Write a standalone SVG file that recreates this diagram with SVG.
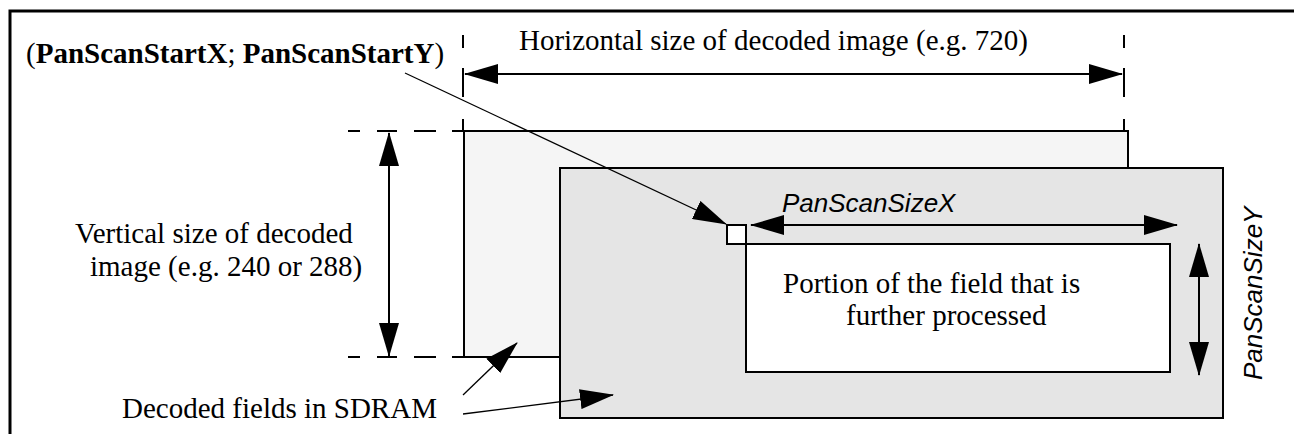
<svg xmlns="http://www.w3.org/2000/svg" width="1294" height="434" viewBox="0 0 1294 434">
<style>
.serif{font-family:"Liberation Serif","Times New Roman",serif;font-size:29px;fill:#000}
.sans{font-family:"Liberation Sans",Arial,sans-serif;font-size:26px;font-style:italic;fill:#000}
.dim{stroke:#000;stroke-width:2;fill:none}
.lead{stroke:#000;stroke-width:1.3;fill:none}
.box{stroke:#000;stroke-width:2}
</style>
<defs>
<marker id="ah" markerUnits="userSpaceOnUse" markerWidth="34" markerHeight="20" viewBox="0 0 34 20" refX="33" refY="10" orient="auto-start-reverse">
<path d="M0,0 L34,10 L0,20 z" fill="#000"/>
</marker>
</defs>
<path d="M10,434 V11 H1294" stroke="#000" stroke-width="3" fill="none"/>
<g id="field1">
<rect class="box" x="464" y="131" width="664" height="226" fill="#f5f5f5"/>
</g>
<g id="field2">
<rect class="box" x="560" y="168" width="663" height="250" fill="#e5e5e5"/>
</g>
<g id="portion">
<rect class="box" x="746" y="244" width="424" height="128" fill="#fff"/>
<text class="serif" x="783" y="293">Portion of the field that is</text>
<text class="serif" x="846" y="325">further processed</text>
</g>
<g id="start-point">
<rect class="box" x="727" y="225" width="19" height="19" fill="#fff"/>
</g>
<g id="labels">
<text class="serif" x="26" y="63"><tspan>(</tspan><tspan font-weight="bold">PanScanStartX</tspan><tspan>; </tspan><tspan font-weight="bold">PanScanStartY</tspan><tspan>)</tspan></text>
<text class="serif" x="519" y="50">Horizontal size of decoded image (e.g. 720)</text>
<text class="serif" x="75" y="243">Vertical size of decoded</text>
<text class="serif" x="90" y="276">image (e.g. 240 or 288)</text>
<text class="serif" x="122" y="418">Decoded fields in SDRAM</text>
<text class="sans" x="782" y="212">PanScanSizeX</text>
<text class="sans" transform="translate(1262,380) rotate(-90)">PanScanSizeY</text>
</g>
<g id="connectors">
<path class="dim" d="M463,35 V48 M463,68 V97 M463,119 V131 M1124,35 V48 M1124,68 V97 M1124,119 V131"/>
<path class="dim" d="M348,131 H360 M377,131 H397 M414,131 H436 M452,131 H463 M348,357 H360 M377,357 H397 M414,357 H436 M452,357 H463"/>
<line class="dim" x1="465" y1="74" x2="1122" y2="74" marker-start="url(#ah)" marker-end="url(#ah)"/>
<line class="dim" x1="389" y1="133" x2="389" y2="356" marker-start="url(#ah)" marker-end="url(#ah)"/>
<line class="dim" x1="751" y1="225" x2="1177" y2="225" marker-start="url(#ah)" marker-end="url(#ah)"/>
<line class="dim" x1="1199" y1="244" x2="1199" y2="375" marker-start="url(#ah)" marker-end="url(#ah)"/>
<line class="lead" x1="405" y1="73" x2="726" y2="224" marker-end="url(#ah)"/>
<line class="lead" x1="463" y1="395" x2="517" y2="343" marker-end="url(#ah)"/>
<line class="lead" x1="463" y1="414" x2="613" y2="395" marker-end="url(#ah)"/>
</g>
</svg>
